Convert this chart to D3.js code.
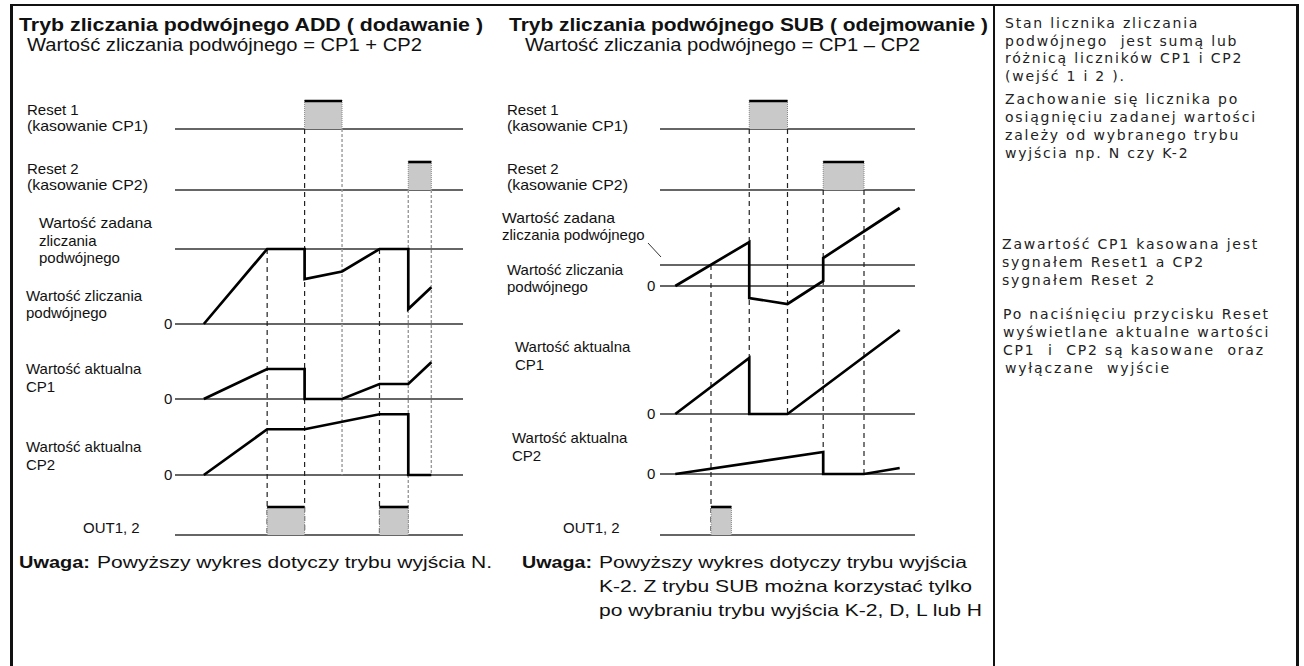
<!DOCTYPE html>
<html>
<head>
<meta charset="utf-8">
<script src="https://cdn.jsdelivr.net/npm/d3@7"></script>
<style>
  body { margin: 0; background: #fff; }
  text { font-family: "Liberation Sans", Arial, sans-serif; fill: #111; white-space: pre; }
</style>
</head>
<body>
<svg width="1304" height="666"></svg>
<script>
// time runs 0..100 across each panel, values are counts
const addCount = [[10, 0], [32, 100], [45, 100], [45, 60], [58, 70], [71, 100], [81, 100], [81, 20], [89, 49]]
const addCp1 = [[10, 0], [32, 40], [45, 40], [45, 0], [58, 0], [71, 20], [81, 20], [89, 49]]
const addCp2 = [[10, 0], [32, 61], [45, 61], [71, 81], [81, 81], [81, 0], [89, 0]]
const addSet = 100
const addReset1 = [[45, 58]]
const addReset2 = [[81, 89]]
const addOut = [[32, 45], [71, 81]]

const subCount = [[6, 0], [35, 44], [35, -12], [50, -18], [64, 5], [64, 28], [94, 78]]
const subCp1 = [[6, 0], [35, 56], [35, 0], [50, 0], [94, 84]]
const subCp2 = [[6, 0], [64, 22], [64, 0], [80, 0], [94, 6]]
const subSet = 21
const subReset1 = [[35, 50]]
const subReset2 = [[64, 80]]
const subOut = [[20, 28]]

// guide lines: time, from track, to track, grey
const addGuides = [[32, 'set', 'out', false], [45, 'r1', 'out', false], [58, 'r1', 'cp2', true],
  [71, 'set', 'out', false], [81, 'r2', 'out', true], [89, 'r2', 'cp2', true]]
const subGuides = [[20, 'set', 'out', false], [35, 'r1', 'cp1', false], [50, 'r1', 'cp1', false],
  [64, 'r2', 'cp2', false], [80, 'r2', 'cp2', false]]

const notes = [
  ['Stan licznika zliczania', 1005, 28],
  ['podwójnego  jest sumą lub', 1005, 46],
  ['różnicą liczników CP1 i CP2', 1005, 63],
  ['(wejść 1 i 2 ).', 1005, 81],
  ['Zachowanie się licznika po', 1005, 104],
  ['osiągnięciu zadanej wartości', 1005, 122],
  ['zależy od wybranego trybu', 1005, 140],
  ['wyjścia np. N czy K-2', 1005, 158],
  ['Zawartość CP1 kasowana jest', 1002, 249],
  ['sygnałem Reset1 a CP2', 1002, 267],
  ['sygnałem Reset 2', 1002, 285],
  ['Po naciśnięciu przycisku Reset', 1003, 319],
  ['wyświetlane aktualne wartości', 1003, 337],
  ['CP1  i  CP2 są kasowane  oraz', 1003, 355],
  ['wyłączane  wyjście', 1005, 373]
]

const svg = d3.select('svg')

function txt (g, s, x, y, size, opts = {}) {
  const t = g.append('text').attr('x', x).attr('y', y).style('font-size', size + 'px').text(s)
  if (opts.bold) t.style('font-weight', 'bold')
  if (opts.family) t.style('font-family', opts.family)
  if (opts.width) t.attr('textLength', opts.width).attr('lengthAdjust', 'spacingAndGlyphs')
  return t
}

function drawPanel (p) {
  const g = svg.append('g')
  const x = d3.scaleLinear().domain([0, 100]).range(p.xRange)
  const y = {}
  for (const k in p.zero) {
    y[k] = d3.scaleLinear().domain([0, 100]).range([p.zero[k], p.zero[k] - 100 * p.k])
  }
  const level = {
    r1: p.zero.r1, r2: p.zero.r2, out: p.zero.out,
    set: y.count(p.set), cnt: p.zero.count, cp1: p.zero.cp1, cp2: p.zero.cp2
  }

  // baselines
  const bases = [level.r1, level.r2, level.set, level.cnt, level.cp1, level.cp2, level.out]
  g.selectAll('.base').data(bases).enter().append('line')
    .attr('x1', x(0)).attr('x2', x(100))
    .attr('y1', d => d).attr('y2', d => d)
    .attr('stroke', '#333').attr('stroke-width', 1.3)

  // dashed guides
  g.selectAll('.guide').data(p.guides).enter().append('line')
    .attr('x1', d => x(d[0])).attr('x2', d => x(d[0]))
    .attr('y1', d => level[d[1]]).attr('y2', d => level[d[2]])
    .attr('stroke', d => d[3] ? '#9a9a9a' : '#222')
    .attr('stroke-width', d => d[3] ? 1.4 : 1.2)
    .attr('stroke-dasharray', d => d[3] ? '3,2' : '5,4')

  // pulses
  const pulses = [[p.reset1, level.r1], [p.reset2, level.r2], [p.out, level.out]]
  pulses.forEach(([list, base]) => {
    const pg = g.append('g')
    pg.selectAll('rect').data(list).enter().append('rect')
      .attr('x', d => x(d[0])).attr('width', d => x(d[1]) - x(d[0]))
      .attr('y', base - p.pulseH).attr('height', p.pulseH)
      .attr('fill', '#c9c9c9')
    pg.selectAll('.edge').data(list.flat()).enter().append('line')
      .attr('x1', d => x(d)).attr('x2', d => x(d))
      .attr('y1', base - p.pulseH).attr('y2', base)
      .attr('stroke', '#8a8a8a').attr('stroke-width', 1).attr('stroke-dasharray', '1,1')
    pg.selectAll('.top').data(list).enter().append('line')
      .attr('x1', d => x(d[0])).attr('x2', d => x(d[1]))
      .attr('y1', base - p.pulseH + 1).attr('y2', base - p.pulseH + 1)
      .attr('stroke', '#000').attr('stroke-width', 2.6)
  })

  // waveforms
  const series = [[p.count, y.count], [p.cp1, y.cp1], [p.cp2, y.cp2]]
  series.forEach(([pts, sy]) => {
    g.append('path').datum(pts)
      .attr('d', d3.line().x(d => x(d[0])).y(d => sy(d[1])))
      .attr('fill', 'none').attr('stroke', '#000').attr('stroke-width', 2.7)
      .attr('stroke-linejoin', 'miter')
  })

  // zero marks
  g.selectAll('.zero').data([level.cnt, level.cp1, level.cp2]).enter().append('text')
    .attr('x', p.zeroX).attr('y', d => d + 5).style('font-size', '15px').text('0')

  return { g, x, level }
}

const add = drawPanel({
  xRange: [175, 463], k: 0.75, pulseH: 29, set: addSet, zeroX: 164,
  zero: { r1: 129, r2: 190, count: 324, cp1: 399, cp2: 475, out: 535 },
  count: addCount, cp1: addCp1, cp2: addCp2,
  reset1: addReset1, reset2: addReset2, out: addOut, guides: addGuides
})

const sub = drawPanel({
  xRange: [660, 915], k: 1, pulseH: 29, set: subSet, zeroX: 647,
  zero: { r1: 129, r2: 190, count: 286, cp1: 414, cp2: 474, out: 535 },
  count: subCount, cp1: subCp1, cp2: subCp2,
  reset1: subReset1, reset2: subReset2, out: subOut, guides: subGuides
})

// ADD panel texts
const ag = add.g
txt(ag, 'Tryb zliczania podwójnego ADD ( dodawanie )', 19, 31, 19, { bold: true, width: 464 })
txt(ag, 'Wartość zliczania podwójnego = CP1 + CP2', 27, 51, 17.5, { width: 395 })
txt(ag, 'Reset 1', 27, 115, 15)
txt(ag, '(kasowanie CP1)', 27, 131, 15, { width: 121 })
txt(ag, 'Reset 2', 27, 174, 15)
txt(ag, '(kasowanie CP2)', 27, 190, 15, { width: 121 })
txt(ag, 'Wartość zadana', 39, 228, 15, { width: 113 })
txt(ag, 'zliczania', 39, 246, 15)
txt(ag, 'podwójnego', 39, 263, 15)
txt(ag, 'Wartość zliczania', 26, 301, 15)
txt(ag, 'podwójnego', 26, 318, 15)
txt(ag, 'Wartość aktualna', 26, 374, 15)
txt(ag, 'CP1', 26, 392, 15)
txt(ag, 'Wartość aktualna', 26, 452, 15)
txt(ag, 'CP2', 26, 470, 15)
txt(ag, 'OUT1, 2', 83, 533, 15)
txt(ag, 'Uwaga:', 19, 568, 16.5, { bold: true, width: 71 })
txt(ag, 'Powyższy wykres dotyczy trybu wyjścia N.', 97, 568, 16.5, { width: 395 })

// SUB panel texts
const sg = sub.g
txt(sg, 'Tryb zliczania podwójnego SUB ( odejmowanie )', 509, 31, 19, { bold: true, width: 479 })
txt(sg, 'Wartość zliczania podwójnego = CP1 \u2013 CP2', 525, 51, 17.5, { width: 395 })
txt(sg, 'Reset 1', 507, 115, 15)
txt(sg, '(kasowanie CP1)', 507, 131, 15, { width: 121 })
txt(sg, 'Reset 2', 507, 174, 15)
txt(sg, '(kasowanie CP2)', 507, 190, 15, { width: 121 })
txt(sg, 'Wartość zadana', 502, 223, 15, { width: 113 })
txt(sg, 'zliczania podwójnego', 502, 240, 15)
txt(sg, 'Wartość zliczania', 507, 275, 15)
txt(sg, 'podwójnego', 507, 292, 15)
txt(sg, 'Wartość aktualna', 515, 352, 15)
txt(sg, 'CP1', 515, 370, 15)
txt(sg, 'Wartość aktualna', 512, 443, 15)
txt(sg, 'CP2', 512, 461, 15)
txt(sg, 'OUT1, 2', 563, 533, 15)
txt(sg, 'Uwaga:', 522, 568, 16.5, { bold: true, width: 70 })
txt(sg, 'Powyższy wykres dotyczy trybu wyjścia', 599, 568, 16.5, { width: 368 })
txt(sg, 'K-2. Z trybu SUB można korzystać tylko', 599, 592, 16.5, { width: 373 })
txt(sg, 'po wybraniu trybu wyjścia K-2, D, L lub H', 599, 616, 16.5, { width: 383 })
// leader from the set-value label to its line
sg.append('line')
  .attr('x1', sub.x(0) - 12).attr('y1', sub.level.set - 22)
  .attr('x2', sub.x(0) + 1).attr('y2', sub.level.set - 8)
  .attr('stroke', '#333').attr('stroke-width', 1)

// right-hand notes
const ng = svg.append('g')
ng.selectAll('text').data(notes).enter().append('text')
  .attr('x', d => d[1]).attr('y', d => d[2])
  .style('font-family', '"DejaVu Sans", Verdana, sans-serif')
  .style('font-size', '14px')
  .style('letter-spacing', '1.8px')
  .style('fill', '#222')
  .text(d => d[0])

// frame
const frame = svg.append('g').attr('stroke', '#111').attr('fill', 'none')
frame.append('line').attr('x1', 10).attr('x2', 1299).attr('y1', 5).attr('y2', 5).attr('stroke-width', 2)
frame.append('line').attr('x1', 11.5).attr('x2', 11.5).attr('y1', 4).attr('y2', 666).attr('stroke-width', 3)
frame.append('line').attr('x1', 994).attr('x2', 994).attr('y1', 4).attr('y2', 666).attr('stroke-width', 2)
frame.append('line').attr('x1', 1297.5).attr('x2', 1297.5).attr('y1', 4).attr('y2', 666).attr('stroke-width', 3)
</script>
</body>
</html>
